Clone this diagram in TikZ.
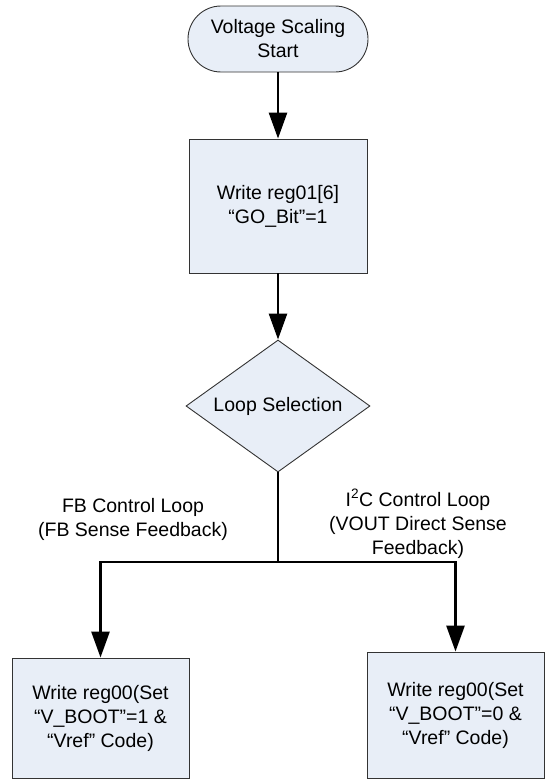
\documentclass[tikz,border=0pt]{standalone}
\usepackage{fontspec}
\setmainfont{Liberation Sans}
\usetikzlibrary{shapes.geometric,arrows.meta}
\definecolor{boxfill}{RGB}{232,238,247}
\begin{document}
\begin{tikzpicture}[x=1pt,y=-1pt,
  every node/.style={font=\fontsize{19.5}{24}\selectfont, align=center, inner sep=0pt},
  procbox/.style={draw=black!80, line width=0.9pt, fill=boxfill, rectangle, minimum width=178pt},
  termbox/.style={draw=black!80, line width=0.9pt, fill=boxfill, rectangle, rounded corners=33pt, minimum width=180pt, minimum height=66pt},
  decbox/.style={draw=black!80, line width=0.9pt, fill=boxfill, diamond, aspect=1.4, minimum width=184pt, minimum height=132pt},
  flow/.style={line width=2.7pt, line join=miter, -{Triangle[length=26pt,width=18pt]}},
  plainline/.style={line width=2.7pt, line join=miter}
]
\useasboundingbox (0,0) rectangle (546,779);

\node[termbox] (t) at (278,39) {Voltage Scaling\\Start};
\node[procbox, minimum height=134pt] (b1) at (278,206) {Write reg01[6]\\“GO\_Bit”=1};
\node[decbox] (d) at (278,406) {Loop Selection};
\node[procbox, minimum width=177pt, minimum height=120pt] (lb) at (100.5,718) {Write reg00(Set\\“V\_BOOT”=1 \&\\“Vref” Code)};
\node[procbox, minimum width=177pt, minimum height=126pt] (rb) at (455.5,715) {Write reg00(Set\\“V\_BOOT”=0 \&\\“Vref” Code)};

\node (ll) at (133,519) {FB Control Loop\\(FB Sense Feedback)};
\node (rl) at (418,524) {I\textsuperscript{2}C Control Loop\\(VOUT Direct Sense\\Feedback)};

\coordinate (j) at (278,562);

\draw[flow] (t) -- (b1);
\draw[flow] (b1) -- (d);
\draw[plainline] (d.south) -- (j);
\draw[flow] (j) -| (lb.north);
\draw[flow] (j) -| (rb.north);
\end{tikzpicture}
\end{document}
